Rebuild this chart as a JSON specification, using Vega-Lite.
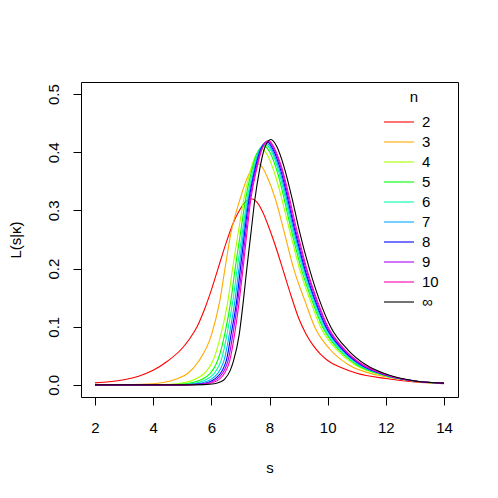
{
  "$schema": "https://vega.github.io/schema/vega-lite/v6.json",
  "width": 377,
  "height": 315,
  "autosize": "none",
  "padding": {"left": 81, "top": 82, "right": 40, "bottom": 101},
  "config": {
    "font": "Liberation Sans",
    "view": {"stroke": "black", "strokeWidth": 1},
    "axis": {"grid": false, "domain": false, "tickColor": "black", "tickSize": 8, "tickWidth": 1, "labelColor": "black", "labelFontSize": 15, "titleFontSize": 15, "titleFontWeight": "normal", "titleColor": "black", "labelFont": "Liberation Sans", "titleFont": "Liberation Sans"},
    "legend": {"labelFont": "Liberation Sans", "titleFont": "Liberation Sans"}
  },
  "data": {"values": [
    {"n":"2","s":2,"L":0.0035},{"n":"2","s":2.5,"L":0.0055},{"n":"2","s":3,"L":0.009},{"n":"2","s":3.5,"L":0.015},{"n":"2","s":4,"L":0.025},{"n":"2","s":4.5,"L":0.041},{"n":"2","s":5,"L":0.063},{"n":"2","s":5.25,"L":0.079},{"n":"2","s":5.5,"L":0.099},{"n":"2","s":5.75,"L":0.128},{"n":"2","s":6,"L":0.163},{"n":"2","s":6.25,"L":0.203},{"n":"2","s":6.5,"L":0.243},{"n":"2","s":6.75,"L":0.278},{"n":"2","s":7,"L":0.303},{"n":"2","s":7.2,"L":0.316},{"n":"2","s":7.38,"L":0.32},{"n":"2","s":7.55,"L":0.315},{"n":"2","s":7.75,"L":0.299},{"n":"2","s":8,"L":0.268},{"n":"2","s":8.25,"L":0.232},{"n":"2","s":8.5,"L":0.192},{"n":"2","s":8.75,"L":0.152},{"n":"2","s":9,"L":0.115},{"n":"2","s":9.25,"L":0.088},{"n":"2","s":9.5,"L":0.068},{"n":"2","s":9.75,"L":0.053},{"n":"2","s":10,"L":0.042},{"n":"2","s":10.5,"L":0.029},{"n":"2","s":11,"L":0.02},{"n":"2","s":12,"L":0.011},{"n":"2","s":13,"L":0.005},{"n":"2","s":14,"L":0.002},

    {"n":"3","s":2,"L":0.0002},{"n":"3","s":3,"L":0.0006},{"n":"3","s":3.6,"L":0.001},{"n":"3","s":4,"L":0.002},{"n":"3","s":4.35,"L":0.004},{"n":"3","s":4.8,"L":0.01},{"n":"3","s":5.2,"L":0.02},{"n":"3","s":5.57,"L":0.041},{"n":"3","s":6.01,"L":0.087},{"n":"3","s":6.29,"L":0.144},{"n":"3","s":6.47,"L":0.2},{"n":"3","s":6.67,"L":0.26},{"n":"3","s":6.99,"L":0.32},{"n":"3","s":7.27,"L":0.36},{"n":"3","s":7.4,"L":0.372},{"n":"3","s":7.6,"L":0.38},{"n":"3","s":7.78,"L":0.372},{"n":"3","s":7.9,"L":0.36},{"n":"3","s":8.2,"L":0.32},{"n":"3","s":8.5,"L":0.264},{"n":"3","s":8.83,"L":0.2},{"n":"3","s":9.22,"L":0.144},{"n":"3","s":9.55,"L":0.1},{"n":"3","s":10.1,"L":0.06},{"n":"3","s":10.7,"L":0.035},{"n":"3","s":11.7,"L":0.017},{"n":"3","s":12,"L":0.014},{"n":"3","s":13,"L":0.006},{"n":"3","s":14,"L":0.0025},

    {"n":"4","s":2,"L":0},{"n":"4","s":3.5,"L":0.0001},{"n":"4","s":4.3,"L":0.0005},{"n":"4","s":4.84,"L":0.002},{"n":"4","s":5.46,"L":0.01},{"n":"4","s":6.05,"L":0.041},{"n":"4","s":6.33,"L":0.087},{"n":"4","s":6.57,"L":0.144},{"n":"4","s":6.73,"L":0.2},{"n":"4","s":6.92,"L":0.26},{"n":"4","s":7.12,"L":0.32},{"n":"4","s":7.31,"L":0.362},{"n":"4","s":7.5,"L":0.392},{"n":"4","s":7.75,"L":0.405},{"n":"4","s":7.95,"L":0.393},{"n":"4","s":8.2,"L":0.36},{"n":"4","s":8.7,"L":0.264},{"n":"4","s":9.03,"L":0.2},{"n":"4","s":9.41,"L":0.144},{"n":"4","s":9.75,"L":0.1},{"n":"4","s":10.32,"L":0.06},{"n":"4","s":10.92,"L":0.035},{"n":"4","s":11.85,"L":0.017},{"n":"4","s":13,"L":0.0064},{"n":"4","s":14,"L":0.0027},

    {"n":"5","s":2,"L":0},{"n":"5","s":4,"L":0.0001},{"n":"5","s":4.65,"L":0.0005},{"n":"5","s":5.13,"L":0.002},{"n":"5","s":5.7,"L":0.01},{"n":"5","s":6.21,"L":0.041},{"n":"5","s":6.46,"L":0.087},{"n":"5","s":6.67,"L":0.144},{"n":"5","s":6.82,"L":0.2},{"n":"5","s":7,"L":0.26},{"n":"5","s":7.18,"L":0.32},{"n":"5","s":7.37,"L":0.365},{"n":"5","s":7.56,"L":0.397},{"n":"5","s":7.82,"L":0.411},{"n":"5","s":8.02,"L":0.399},{"n":"5","s":8.27,"L":0.366},{"n":"5","s":8.76,"L":0.264},{"n":"5","s":9.09,"L":0.2},{"n":"5","s":9.47,"L":0.144},{"n":"5","s":9.82,"L":0.1},{"n":"5","s":10.39,"L":0.06},{"n":"5","s":10.99,"L":0.035},{"n":"5","s":11.9,"L":0.017},{"n":"5","s":13,"L":0.0065},{"n":"5","s":14,"L":0.0027},

    {"n":"6","s":2,"L":0},{"n":"6","s":4.3,"L":0.0001},{"n":"6","s":4.9,"L":0.0005},{"n":"6","s":5.34,"L":0.002},{"n":"6","s":5.86,"L":0.01},{"n":"6","s":6.33,"L":0.041},{"n":"6","s":6.54,"L":0.087},{"n":"6","s":6.74,"L":0.144},{"n":"6","s":6.89,"L":0.2},{"n":"6","s":7.06,"L":0.26},{"n":"6","s":7.23,"L":0.32},{"n":"6","s":7.42,"L":0.366},{"n":"6","s":7.61,"L":0.4},{"n":"6","s":7.86,"L":0.414},{"n":"6","s":8.06,"L":0.402},{"n":"6","s":8.31,"L":0.368},{"n":"6","s":8.8,"L":0.264},{"n":"6","s":9.14,"L":0.2},{"n":"6","s":9.51,"L":0.144},{"n":"6","s":9.86,"L":0.1},{"n":"6","s":10.44,"L":0.06},{"n":"6","s":11.04,"L":0.035},{"n":"6","s":11.93,"L":0.017},{"n":"6","s":13,"L":0.0066},{"n":"6","s":14,"L":0.0028},

    {"n":"7","s":2,"L":0},{"n":"7","s":4.5,"L":0.0001},{"n":"7","s":5.05,"L":0.0005},{"n":"7","s":5.51,"L":0.002},{"n":"7","s":6,"L":0.01},{"n":"7","s":6.43,"L":0.041},{"n":"7","s":6.62,"L":0.087},{"n":"7","s":6.81,"L":0.144},{"n":"7","s":6.95,"L":0.2},{"n":"7","s":7.1,"L":0.26},{"n":"7","s":7.27,"L":0.32},{"n":"7","s":7.46,"L":0.367},{"n":"7","s":7.65,"L":0.402},{"n":"7","s":7.89,"L":0.416},{"n":"7","s":8.09,"L":0.404},{"n":"7","s":8.34,"L":0.37},{"n":"7","s":8.84,"L":0.264},{"n":"7","s":9.18,"L":0.2},{"n":"7","s":9.55,"L":0.144},{"n":"7","s":9.91,"L":0.1},{"n":"7","s":10.49,"L":0.06},{"n":"7","s":11.09,"L":0.035},{"n":"7","s":11.96,"L":0.017},{"n":"7","s":13,"L":0.0066},{"n":"7","s":14,"L":0.0028},

    {"n":"8","s":2,"L":0},{"n":"8","s":4.6,"L":0.0001},{"n":"8","s":5.2,"L":0.0005},{"n":"8","s":5.66,"L":0.002},{"n":"8","s":6.11,"L":0.01},{"n":"8","s":6.51,"L":0.041},{"n":"8","s":6.68,"L":0.087},{"n":"8","s":6.87,"L":0.144},{"n":"8","s":7,"L":0.2},{"n":"8","s":7.14,"L":0.26},{"n":"8","s":7.3,"L":0.32},{"n":"8","s":7.49,"L":0.368},{"n":"8","s":7.68,"L":0.403},{"n":"8","s":7.92,"L":0.418},{"n":"8","s":8.12,"L":0.405},{"n":"8","s":8.37,"L":0.372},{"n":"8","s":8.88,"L":0.264},{"n":"8","s":9.21,"L":0.2},{"n":"8","s":9.58,"L":0.144},{"n":"8","s":9.94,"L":0.1},{"n":"8","s":10.53,"L":0.06},{"n":"8","s":11.13,"L":0.035},{"n":"8","s":11.98,"L":0.017},{"n":"8","s":13,"L":0.0067},{"n":"8","s":14,"L":0.0029},

    {"n":"9","s":2,"L":0},{"n":"9","s":4.7,"L":0.0001},{"n":"9","s":5.3,"L":0.0005},{"n":"9","s":5.76,"L":0.002},{"n":"9","s":6.19,"L":0.01},{"n":"9","s":6.57,"L":0.041},{"n":"9","s":6.74,"L":0.087},{"n":"9","s":6.91,"L":0.144},{"n":"9","s":7.05,"L":0.2},{"n":"9","s":7.18,"L":0.26},{"n":"9","s":7.33,"L":0.32},{"n":"9","s":7.52,"L":0.368},{"n":"9","s":7.71,"L":0.404},{"n":"9","s":7.95,"L":0.419},{"n":"9","s":8.15,"L":0.406},{"n":"9","s":8.4,"L":0.373},{"n":"9","s":8.91,"L":0.264},{"n":"9","s":9.25,"L":0.2},{"n":"9","s":9.62,"L":0.144},{"n":"9","s":9.98,"L":0.1},{"n":"9","s":10.57,"L":0.06},{"n":"9","s":11.17,"L":0.035},{"n":"9","s":12.01,"L":0.017},{"n":"9","s":13,"L":0.0067},{"n":"9","s":14,"L":0.0029},

    {"n":"10","s":2,"L":0},{"n":"10","s":4.8,"L":0.0001},{"n":"10","s":5.4,"L":0.0005},{"n":"10","s":5.87,"L":0.002},{"n":"10","s":6.28,"L":0.01},{"n":"10","s":6.63,"L":0.041},{"n":"10","s":6.8,"L":0.087},{"n":"10","s":6.96,"L":0.144},{"n":"10","s":7.09,"L":0.2},{"n":"10","s":7.22,"L":0.26},{"n":"10","s":7.36,"L":0.32},{"n":"10","s":7.55,"L":0.369},{"n":"10","s":7.74,"L":0.405},{"n":"10","s":7.97,"L":0.42},{"n":"10","s":8.17,"L":0.407},{"n":"10","s":8.42,"L":0.374},{"n":"10","s":8.95,"L":0.264},{"n":"10","s":9.28,"L":0.2},{"n":"10","s":9.65,"L":0.144},{"n":"10","s":10.01,"L":0.1},{"n":"10","s":10.6,"L":0.06},{"n":"10","s":11.2,"L":0.035},{"n":"10","s":12.04,"L":0.017},{"n":"10","s":13,"L":0.0067},{"n":"10","s":14,"L":0.003},

    {"n":"∞","s":2,"L":0},{"n":"∞","s":5,"L":0},{"n":"∞","s":5.75,"L":0.0005},{"n":"∞","s":6.1,"L":0.002},{"n":"∞","s":6.3,"L":0.005},{"n":"∞","s":6.46,"L":0.01},{"n":"∞","s":6.65,"L":0.025},{"n":"∞","s":6.76,"L":0.041},{"n":"∞","s":6.96,"L":0.087},{"n":"∞","s":7.1,"L":0.144},{"n":"∞","s":7.22,"L":0.2},{"n":"∞","s":7.36,"L":0.26},{"n":"∞","s":7.5,"L":0.32},{"n":"∞","s":7.66,"L":0.37},{"n":"∞","s":7.83,"L":0.407},{"n":"∞","s":8.05,"L":0.422},{"n":"∞","s":8.25,"L":0.41},{"n":"∞","s":8.5,"L":0.375},{"n":"∞","s":8.78,"L":0.32},{"n":"∞","s":9.03,"L":0.264},{"n":"∞","s":9.37,"L":0.2},{"n":"∞","s":9.73,"L":0.144},{"n":"∞","s":10.1,"L":0.1},{"n":"∞","s":10.7,"L":0.06},{"n":"∞","s":11.3,"L":0.035},{"n":"∞","s":12.1,"L":0.017},{"n":"∞","s":12.55,"L":0.011},{"n":"∞","s":13,"L":0.0068},{"n":"∞","s":14,"L":0.003}
  ]},
  "mark": {"type": "line", "interpolate": "monotone", "strokeWidth": 1.1, "clip": true},
  "encoding": {
    "x": {"field": "s", "type": "quantitative", "scale": {"domain": [1.52, 14.48], "nice": false, "zero": false},
      "axis": {"values": [2, 4, 6, 8, 10, 12, 14], "title": "s", "labelPadding": 15, "titleY": 70, "titleBaseline": "middle"}},
    "y": {"field": "L", "type": "quantitative", "scale": {"domain": [-0.0208, 0.5208], "nice": false, "zero": false},
      "axis": {"values": [0, 0.1, 0.2, 0.3, 0.4, 0.5], "format": ".1f", "title": "L(s|κ)", "labelAngle": -90, "labelAlign": "center", "labelBaseline": "bottom", "labelPadding": 12, "titleX": -66, "titleY": 157.5, "titleBaseline": "middle", "titleAngle": -90}},
    "color": {"field": "n", "type": "nominal",
      "scale": {"domain": ["2","3","4","5","6","7","8","9","10","∞"], "range": ["#FF0000","#FFAA00","#AAFF00","#00FF00","#00FFAA","#00AAFF","#0000FF","#AA00FF","#FF00AA","#000000"]},
      "legend": {"orient": "none", "legendX": 308, "legendY": 8, "title": "n", "titleFontSize": 15, "titleFontWeight": "normal", "titleColor": "black", "titleAnchor": "middle", "titlePadding": 7, "labelFontSize": 15, "labelColor": "black", "symbolType": "M-1.667,0H1.667", "symbolSize": 324, "symbolStrokeWidth": 1.1, "symbolFillColor": "transparent", "rowPadding": 2, "labelOffset": 13, "padding": 0}}
  }
}
